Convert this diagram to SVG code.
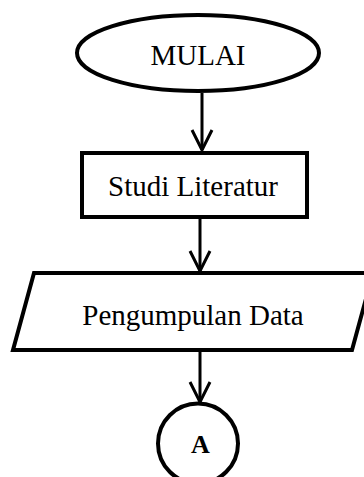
<svg xmlns="http://www.w3.org/2000/svg" width="364" height="477" viewBox="0 0 364 477">
<style>
.s{fill:#fff;stroke:#000;stroke-width:4}
.t{font-family:"Liberation Serif","Times New Roman",serif;font-size:29px;fill:#000;text-anchor:middle}
.c{fill:none;stroke:#000;stroke-width:3}
</style>
<defs>
<marker id="ah" markerUnits="userSpaceOnUse" markerWidth="24" markerHeight="24" viewBox="0 0 24 24" refX="21" refY="12" orient="auto">
<path d="M1,2 L21,12 L1,22" fill="none" stroke="#000" stroke-width="3"/>
</marker>
</defs>
<rect width="364" height="477" fill="#fff"/>
<g id="connectors">
<line class="c" x1="202" y1="93" x2="202" y2="150" marker-end="url(#ah)"/>
<line class="c" x1="200" y1="218" x2="200" y2="271" marker-end="url(#ah)"/>
<line class="c" x1="200" y1="352" x2="200" y2="402" marker-end="url(#ah)"/>
</g>
<g id="mulai">
<ellipse class="s" cx="198" cy="53" rx="121" ry="38"/>
<text class="t" x="198" y="65">MULAI</text>
</g>
<g id="studi">
<rect class="s" x="82" y="153" width="225" height="64"/>
<text class="t" x="193" y="195.5">Studi Literatur</text>
</g>
<g id="pengumpulan">
<polygon class="s" points="34,273 373,273 352,350 13,350"/>
<text class="t" x="193" y="325">Pengumpulan Data</text>
</g>
<g id="a">
<circle class="s" cx="198" cy="443.5" r="40"/>
<text x="200.5" y="453.3" style="font-family:'Liberation Serif','Times New Roman',serif;font-size:26px;font-weight:bold;text-anchor:middle">A</text>
</g>
</svg>
